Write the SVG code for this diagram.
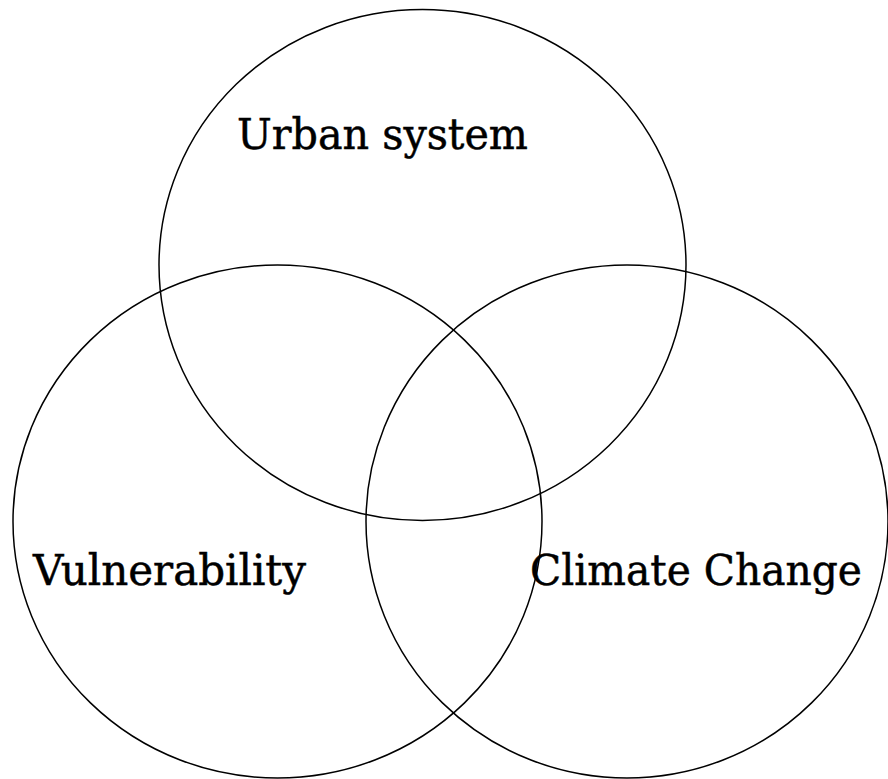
<svg xmlns="http://www.w3.org/2000/svg" width="888" height="779" viewBox="0 0 888 779">
<style>
.c{fill:none;stroke:#000;stroke-width:1.5}
.t{font-family:"DejaVu Serif","Liberation Serif",serif;font-size:42px;fill:#000;stroke:#000;stroke-width:0.5}
</style>
<rect width="888" height="779" fill="#fff"/>
<g id="urban-system">
<ellipse class="c" cx="422.5" cy="265" rx="263.5" ry="255.5"/>
<text class="t" x="237" y="149" textLength="291" lengthAdjust="spacingAndGlyphs">Urban system</text>
</g>
<g id="vulnerability">
<ellipse class="c" cx="277.5" cy="521.5" rx="264.5" ry="256.5"/>
<text class="t" x="33" y="585" textLength="273" lengthAdjust="spacingAndGlyphs">Vulnerability</text>
</g>
<g id="climate-change">
<ellipse class="c" cx="627" cy="521.5" rx="261" ry="256.5"/>
<text class="t" x="530" y="585" textLength="332" lengthAdjust="spacingAndGlyphs">Climate Change</text>
</g>
<g id="connectors"/>
</svg>
